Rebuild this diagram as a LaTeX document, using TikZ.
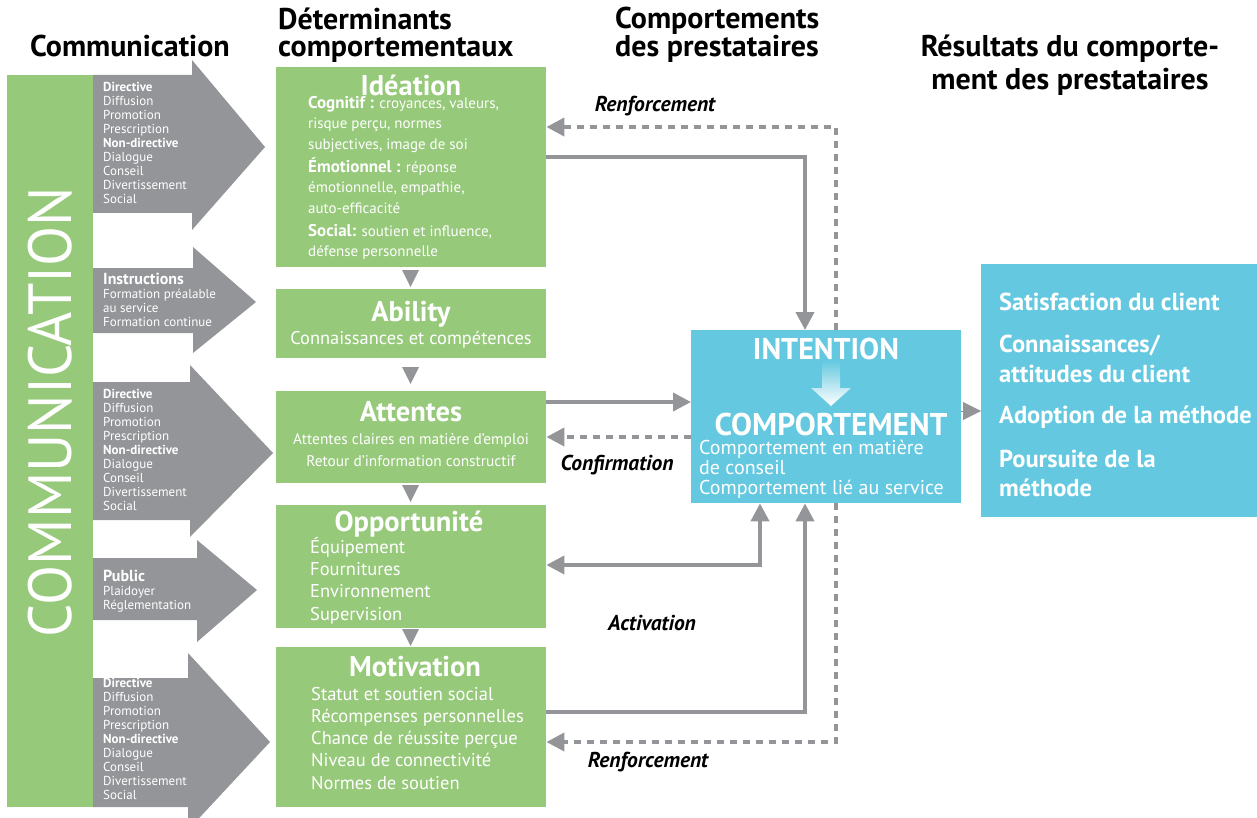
\documentclass[tikz,border=0pt]{standalone}
\usepackage{fontspec}
\usepackage{graphicx}
\setmainfont{PT Sans}
\usetikzlibrary{arrows.meta}
\definecolor{grn}{HTML}{96C97A}
\definecolor{blu}{HTML}{63C8E0}
\definecolor{gry}{HTML}{939598}
\newcommand{\fs}[2]{\fontsize{#1}{#2}\selectfont}
\tikzset{
  gbox/.style={fill=grn, draw=none, anchor=north west, inner sep=0},
  bbox/.style={fill=blu, draw=none, anchor=north west, inner sep=0},
  hd/.style={font=\bfseries\fs{30}{27}, align=left, anchor=base west, inner sep=0},
  atxt/.style={white, font=\fs{13}{14}, align=left, anchor=base west, inner sep=0},
  ttl/.style={white, font=\bfseries\fs{28.5}{28}, anchor=base, inner sep=0},
  wtxt/.style={white, align=left, anchor=base west, inner sep=0},
  lbl/.style={font=\bfseries\itshape\fs{21.5}{20}, anchor=base, inner sep=0},
  conn/.style={gry, line width=4pt, -{Triangle[length=18pt,width=18pt]}},
  dconn/.style={conn, dash pattern=on 7pt off 6pt},
  bigarrow/.style={fill=gry, draw=none},
}
\begin{document}
\begin{tikzpicture}[x=1pt,y=-1pt]
\useasboundingbox (0,0) rectangle (1257,818);

% headings (base anchor = baseline of the last line)
\node[hd] (h1) at (30,57) {Communication};
\node[hd] (h2) at (278,57) {Déterminants\\comportementaux};
\node[hd] (h3) at (615,57) {Comportements\\des prestataires};
\node[hd, align=center, anchor=base, font=\bfseries\fs{30}{33}] (h4) at (1070,90) {Résultats du comporte-\\ment des prestataires};

% communication bar
\fill[grn] (7,75) rectangle (93,807);
\node[white, rotate=90, anchor=base, inner sep=0, font=\fs{61}{61}] (comm) at (71,412) {\scalebox{0.96}[1]{COMMUNICATION}};

% grey block arrows
\fill[bigarrow] (93,75) -- (192,75) -- (192,60) -- (265,147) -- (192,230) -- (192,213) -- (93,213) -- cycle;
\fill[bigarrow] (93,268) -- (193,268) -- (193,247) -- (256,302) -- (193,353) -- (193,333) -- (93,333) -- cycle;
\fill[bigarrow] (93,382) -- (190,382) -- (190,365) -- (273,453) -- (190,537) -- (190,520) -- (93,520) -- cycle;
\fill[bigarrow] (93,558) -- (197,558) -- (197,540) -- (257,590) -- (197,642) -- (197,620) -- (93,620) -- cycle;
\fill[bigarrow] (93,678) -- (188,678) -- (188,653) -- (270,742) -- (188,830) -- (188,807) -- (93,807) -- cycle;

\node[atxt] (a1) at (103,204) {\textbf{Directive}\\Diffusion\\Promotion\\Prescription\\\textbf{Non-directive}\\Dialogue\\Conseil\\Divertissement\\Social};
\node[atxt] (a2) at (103,326) {{\bfseries\fs{16}{14}Instructions}\\Formation préalable\\au service\\Formation continue};
\node[atxt] (a3) at (103,510) {\textbf{Directive}\\Diffusion\\Promotion\\Prescription\\\textbf{Non-directive}\\Dialogue\\Conseil\\Divertissement\\Social};
\node[atxt] (a4) at (103,609) {{\bfseries\fs{16}{14}Public}\\Plaidoyer\\Réglementation};
\node[atxt] (a5) at (103,799) {\textbf{Directive}\\Diffusion\\Promotion\\Prescription\\\textbf{Non-directive}\\Dialogue\\Conseil\\Divertissement\\Social};

% green boxes
\node[gbox, minimum width=270, minimum height=200] (idea) at (276,67) {};
\node[gbox, minimum width=270, minimum height=69] (abil) at (276,289) {};
\node[gbox, minimum width=270, minimum height=92] (att) at (276,391) {};
\node[gbox, minimum width=270, minimum height=123] (opp) at (276,505) {};
\node[gbox, minimum width=270, minimum height=160] (mot) at (276,647) {};

\fill[gry] (402,270) -- (419,270) -- (410.5,287) -- cycle;
\fill[gry] (402,367) -- (419,367) -- (410.5,384) -- cycle;
\fill[gry] (402,485) -- (419,485) -- (410.5,502) -- cycle;
\fill[gry] (402,629) -- (419,629) -- (410.5,646) -- cycle;

\node[ttl] (ideat) at (411,96) {Idéation};
\node[wtxt, font=\fs{15}{20}] (ideab) at (308,256) {{\bfseries\fs{17}{20}Cognitif :} croyances, valeurs,\\risque perçu, normes\\subjectives, image de soi\\[4pt]{\bfseries\fs{17}{20}Émotionnel :} réponse\\émotionnelle, empathie,\\auto-efficacité\\[3pt]{\bfseries\fs{17}{20}Social:} soutien et influence,\\défense personnelle};

\node[ttl] (abilt) at (411,321) {Ability};
\node[white, anchor=base, inner sep=0, font=\fs{18.4}{20}] (abilb) at (411,344) {Connaissances et compétences};

\node[ttl] (attt) at (411,421) {Attentes};
\node[white, anchor=base, align=center, inner sep=0, font=\fs{15.4}{22}] (attb) at (411,466) {Attentes claires en matière d'emploi\\Retour d'information constructif};

\node[ttl] (oppt) at (409,531) {Opportunité};
\node[wtxt, font=\fs{18.5}{22.3}] (oppb) at (310,620) {Équipement\\Fournitures\\Environnement\\Supervision};

\node[ttl] (mott) at (415,676) {Motivation};
\node[wtxt, font=\fs{18.5}{22.2}] (motb) at (311,789) {Statut et soutien social\\Récompenses personnelles\\Chance de réussite perçue\\Niveau de connectivité\\Normes de soutien};

% intention / behaviour box
\node[bbox, minimum width=270, minimum height=173] (intent) at (691,330) {};
\node[white, anchor=base, inner sep=0, font=\bfseries\fs{30}{30}] (intt) at (826,359) {INTENTION};
\shade[top color=blu, bottom color=white] (822,360) -- (840,360) -- (840,388) -- (851,388) -- (831,406) -- (811,388) -- (822,388) -- cycle;
\node[white, anchor=base, inner sep=0, font=\bfseries\fs{31.4}{30}] (compt) at (831,435) {COMPORTEMENT};
\node[wtxt, font=\fs{20}{20}] (compb) at (699,494) {Comportement en matière\\de conseil\\Comportement lié au service};

% results box
\node[bbox, minimum width=276, minimum height=253] (res) at (981,264) {};
\node[wtxt, font=\bfseries\fs{24.5}{30}] (r1) at (999,310) {Satisfaction du client};
\node[wtxt, font=\bfseries\fs{24.5}{30}] (r2) at (999,382) {Connaissances/\\attitudes du client};
\node[wtxt, font=\bfseries\fs{24.5}{30}] (r3) at (999,423) {Adoption de la méthode};
\node[wtxt, font=\bfseries\fs{24.5}{29}] (r4) at (999,496) {Poursuite de la\\méthode};

% connectors
\draw[conn] (idea.east |- 0,157) -| (intent.north -| 805,0);
\draw[dconn] (intent.north -| 836,0) |- (idea.east |- 0,127);
\draw[conn] (att.east |- 0,402) -- (intent.west |- 0,402);
\draw[dconn] (intent.west |- 0,437) -- (att.east |- 0,437);
\draw[conn, {Triangle[length=18pt,width=18pt]}-{Triangle[length=18pt,width=18pt]}] (intent.south -| 760,0) |- (opp.east |- 0,565);
\draw[conn] (mot.east |- 0,712) -| (intent.south -| 805,0);
\draw[dconn] (intent.south -| 836,0) |- (mot.east |- 0,742);
\draw[gry, line width=1pt, -{Triangle[length=18pt,width=18pt]}] (intent.east |- 0,411) -- (res.west |- 0,411);

\node[lbl] (l1) at (655,112) {Renforcement};
\node[lbl] (l2) at (617,470) {Confirmation};
\node[lbl] (l3) at (652,630) {Activation};
\node[lbl] (l4) at (648,767) {Renforcement};
\end{tikzpicture}
\end{document}
